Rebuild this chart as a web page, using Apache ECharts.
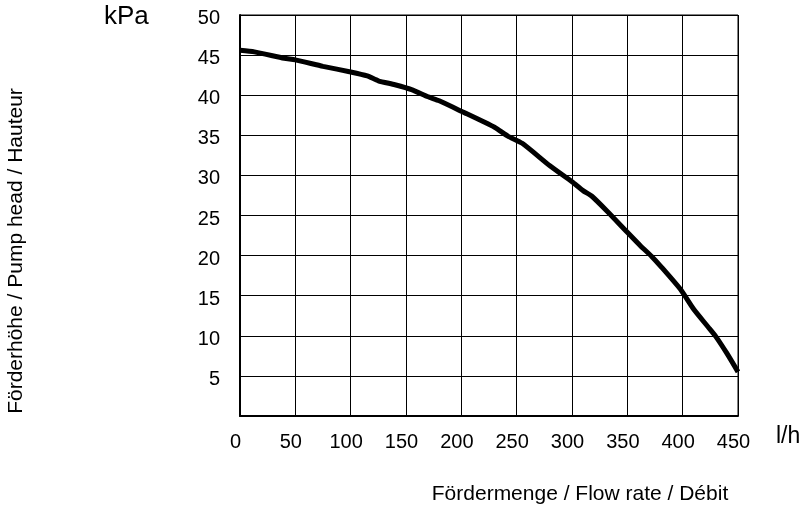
<!DOCTYPE html>
<html>
<head>
<meta charset="utf-8">
<script src="https://cdn.jsdelivr.net/npm/echarts@6/dist/echarts.min.js"></script>
<style>html,body{margin:0;padding:0;background:#fff}#c{width:809px;height:509px}</style>
</head>
<body>
<div id="c"></div>
<script>
const flow = [0, 13, 40, 50, 75, 100, 115, 125, 140, 155, 170, 180, 200, 230, 242, 255, 280, 300, 310, 318, 332, 350, 362, 372, 380, 398, 410, 423, 430, 440, 450];
const head = [45.6, 45.4, 44.6, 44.4, 43.6, 42.9, 42.4, 41.8, 41.3, 40.7, 39.8, 39.3, 38.0, 36.0, 34.9, 34.0, 31.2, 29.2, 28.1, 27.4, 25.5, 22.9, 21.2, 19.9, 18.7, 15.8, 13.3, 11.1, 9.9, 7.8, 5.5];
const xTicks = [0, 50, 100, 150, 200, 250, 300, 350, 400, 450];
const yTicks = [5, 10, 15, 20, 25, 30, 35, 40, 45, 50];
const yUnit = 'kPa';
const xUnit = 'l/h';
const yTitle = 'Förderhöhe / Pump head / Hauteur';
const xTitle = 'Fördermenge / Flow rate / Débit';

const FONT = 'Liberation Sans, Arial, sans-serif';
const chart = echarts.init(document.getElementById('c'));
chart.setOption({
  animation: false,
  backgroundColor: '#fff',
  grid: { left: 240, right: 71, top: 15, bottom: 93, show: true, borderColor: '#000', borderWidth: 1 },
  xAxis: {
    type: 'value', min: 0, max: 450, interval: 50,
    axisLine: { show: true, lineStyle: { color: '#000', width: 2 } },
    axisTick: { show: false },
    splitLine: { show: true, lineStyle: { color: '#000', width: 1 } },
    axisLabel: {
      color: '#000', fontSize: 20, fontFamily: FONT, margin: 16, padding: [0, 9, 0, 0],
      formatter: v => xTicks.includes(v) ? String(v) : ''
    }
  },
  yAxis: {
    type: 'value', min: 0, max: 50, interval: 5,
    axisLine: { show: true, lineStyle: { color: '#000', width: 2 } },
    axisTick: { show: false },
    splitLine: { show: true, lineStyle: { color: '#000', width: 1 } },
    axisLabel: {
      color: '#000', fontSize: 20, fontFamily: FONT, margin: 20,
      formatter: v => yTicks.includes(v) ? '{a|' + v + '}' : '',
      rich: { a: { fontSize: 20, fontFamily: FONT, color: '#000', padding: [7, 0, 0, 0] } }
    }
  },
  series: [{
    type: 'line',
    data: flow.map((f, i) => [f, head[i]]),
    showSymbol: false,
    smooth: 0.2,
    lineStyle: { color: '#000', width: 5 },
    z: 5
  }],
  graphic: [
    { type: 'text', left: 104, top: 4, style: { text: yUnit, fontSize: 26, fontFamily: FONT, fill: '#000' } },
    { type: 'text', left: 776, top: 425, style: { text: xUnit, fontSize: 23, fontFamily: FONT, fill: '#000' } },
    { type: 'text', x: 580, y: 494, style: { text: xTitle, fontSize: 21, fontFamily: FONT, fill: '#000', align: 'center', verticalAlign: 'middle' } },
    { type: 'text', x: 16, y: 251, rotation: Math.PI / 2, style: { text: yTitle, fontSize: 21, fontFamily: FONT, fill: '#000', align: 'center', verticalAlign: 'middle' } }
  ]
});
</script>
</body>
</html>
